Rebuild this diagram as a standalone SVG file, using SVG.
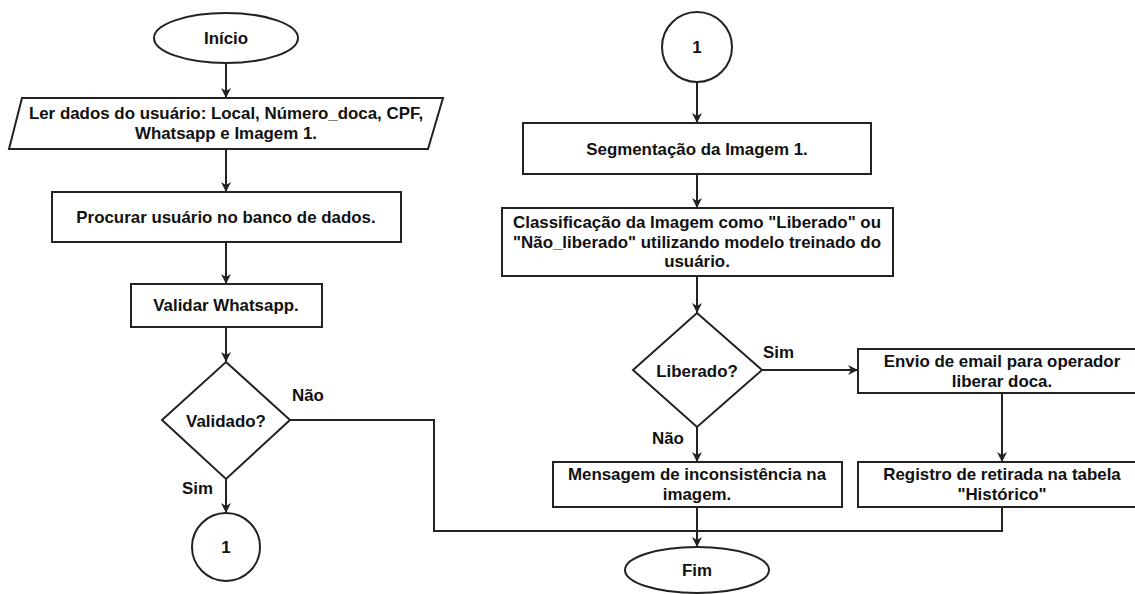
<svg xmlns="http://www.w3.org/2000/svg" width="1135" height="594" viewBox="0 0 1135 594">
  <style>
    .shape { fill: #ffffff; stroke: #222222; stroke-width: 2; }
    .edge { fill: none; stroke: #222222; stroke-width: 2; }
    .arrow { marker-end: url(#head); }
    text { font-family: "Liberation Sans", Arial, sans-serif; font-size: 16.9px; font-weight: bold; fill: #111111; }
    .c { text-anchor: middle; }
  </style>
  <defs>
    <marker id="head" markerWidth="11" markerHeight="10" refX="10" refY="5" orient="auto" markerUnits="userSpaceOnUse">
      <path d="M0,0 L10,5 L0,10 L3,5 Z" fill="#222222"/>
    </marker>
  </defs>
  <rect width="1135" height="594" fill="#ffffff"/>

  <!-- connectors -->
  <g id="connectors">
    <path class="edge arrow" d="M226,63 L226,98"/>
    <path class="edge arrow" d="M226,149 L226,192"/>
    <path class="edge arrow" d="M226,242 L226,284"/>
    <path class="edge arrow" d="M226,327 L226,362"/>
    <path class="edge arrow" d="M226,479 L226,513"/>
    <path class="edge" d="M290,420 L434,420 L434,531 L697,531"/>
    <path class="edge arrow" d="M697,82 L697,123"/>
    <path class="edge arrow" d="M697,174 L697,208"/>
    <path class="edge arrow" d="M697,276 L697,313"/>
    <path class="edge arrow" d="M762,370 L858,370"/>
    <path class="edge arrow" d="M1002,393 L1002,462"/>
    <path class="edge arrow" d="M697,427 L697,462"/>
    <path class="edge arrow" d="M697,507 L697,547"/>
    <path class="edge" d="M1002,507 L1002,531 L697,531"/>
    <text x="292" y="401">Não</text>
    <text x="182" y="494">Sim</text>
    <text x="763" y="358">Sim</text>
    <text x="652" y="444">Não</text>
  </g>

  <!-- left column -->
  <g id="inicio">
    <ellipse class="shape" cx="226" cy="38" rx="72" ry="25"/>
    <text class="c" x="226" y="44">Início</text>
  </g>
  <g id="ler-dados">
    <polygon class="shape" points="22,98 443,98 428,149 9,149"/>
    <text class="c" x="226" y="119">Ler dados do usuário: Local, Número_doca, CPF,</text>
    <text class="c" x="226" y="139">Whatsapp e Imagem 1.</text>
  </g>
  <g id="procurar">
    <rect class="shape" x="52" y="192" width="349" height="50"/>
    <text class="c" x="226" y="223">Procurar usuário no banco de dados.</text>
  </g>
  <g id="validar">
    <rect class="shape" x="131" y="284" width="191" height="43"/>
    <text class="c" x="226" y="311">Validar Whatsapp.</text>
  </g>
  <g id="validado">
    <polygon class="shape" points="226,362 290,420 226,479 162,420"/>
    <text class="c" x="226" y="427">Validado?</text>
  </g>
  <g id="conector-1-saida">
    <circle class="shape" cx="226" cy="547" r="34"/>
    <text class="c" x="226" y="553">1</text>
  </g>

  <!-- right column -->
  <g id="conector-1-entrada">
    <circle class="shape" cx="697" cy="47" r="35"/>
    <text class="c" x="697" y="53">1</text>
  </g>
  <g id="segmentacao">
    <rect class="shape" x="523" y="123" width="348" height="51"/>
    <text class="c" x="697" y="155">Segmentação da Imagem 1.</text>
  </g>
  <g id="classificacao">
    <rect class="shape" x="502" y="208" width="391" height="68"/>
    <text class="c" x="697" y="228">Classificação da Imagem como "Liberado" ou</text>
    <text class="c" x="697" y="248">"Não_liberado" utilizando modelo treinado do</text>
    <text class="c" x="697" y="267">usuário.</text>
  </g>
  <g id="liberado">
    <polygon class="shape" points="697,313 762,370 697,427 633,370"/>
    <text class="c" x="697" y="377">Liberado?</text>
  </g>
  <g id="envio-email">
    <rect class="shape" x="858" y="349" width="289" height="44"/>
    <text class="c" x="1002" y="367">Envio de email para operador</text>
    <text class="c" x="1002" y="387">liberar doca.</text>
  </g>
  <g id="registro">
    <rect class="shape" x="858" y="462" width="289" height="45"/>
    <text class="c" x="1002" y="480">Registro de retirada na tabela</text>
    <text class="c" x="1002" y="500">"Histórico"</text>
  </g>
  <g id="mensagem">
    <rect class="shape" x="553" y="462" width="289" height="45"/>
    <text class="c" x="697" y="480">Mensagem de inconsistência na</text>
    <text class="c" x="697" y="500">imagem.</text>
  </g>
  <g id="fim">
    <ellipse class="shape" cx="697" cy="570" rx="72" ry="23"/>
    <text class="c" x="697" y="576">Fim</text>
  </g>
</svg>
